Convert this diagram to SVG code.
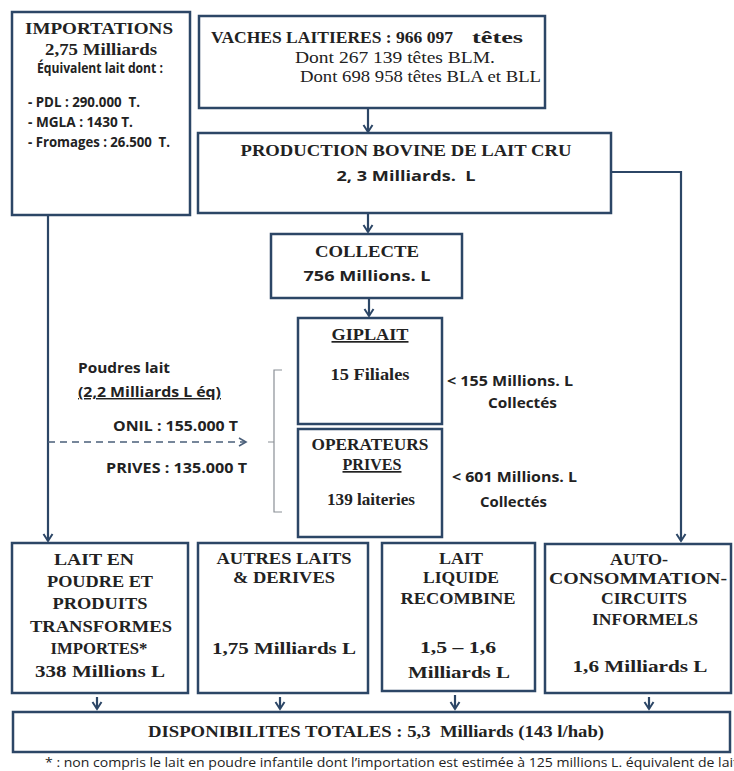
<svg xmlns="http://www.w3.org/2000/svg" width="734" height="771" viewBox="0 0 734 771">
  <defs>
    <style>
      .box { fill: #ffffff; stroke: #2c4666; stroke-width: 2.5; }
      .link { fill: none; stroke: #2c4666; stroke-width: 2.2; }
      .dash { fill: none; stroke: #4a5f7a; stroke-width: 1.6; stroke-dasharray: 7 5; }
      .brace { fill: none; stroke: #8a8f96; stroke-width: 1.2; }
      .hb { font-family: "Liberation Serif", "Times New Roman", serif; font-weight: bold; font-size: 17px; fill: #222222; }
      .hr { font-family: "Liberation Serif", "Times New Roman", serif; font-size: 16px; fill: #222222; }
      .sb { font-family: "Open Sans", "Noto Sans", sans-serif; font-weight: bold; font-size: 14.5px; fill: #222222; }
      .ss { font-family: "Open Sans", "Noto Sans", sans-serif; font-size: 12px; fill: #222222; }
      .mid { text-anchor: middle; }
      .u { text-decoration: underline; }
    </style>
    <marker id="chev" markerUnits="userSpaceOnUse" markerWidth="12" markerHeight="12" viewBox="0 0 12 12" refX="10" refY="6" orient="auto">
      <path d="M3,1.5 L10,6 L3,10.5" fill="none" stroke="#2c4666" stroke-width="2"/>
    </marker>
    <marker id="chevDash" markerUnits="userSpaceOnUse" markerWidth="12" markerHeight="12" viewBox="0 0 12 12" refX="10" refY="6" orient="auto">
      <path d="M3,2 L10,6 L3,10" fill="none" stroke="#4a5f7a" stroke-width="1.6"/>
    </marker>
  </defs>

  <rect width="734" height="771" fill="#ffffff"/>

  <!-- connectors -->
  <g id="connectors">
    <path class="link" d="M368,108 V132" marker-end="url(#chev)"/>
    <path class="link" d="M368,213 V232" marker-end="url(#chev)"/>
    <path class="link" d="M369,298 V316" marker-end="url(#chev)"/>
    <path class="link" d="M48,215 V541" marker-end="url(#chev)"/>
    <path class="link" d="M611,172 H681 V541" marker-end="url(#chev)"/>
    <path class="dash" d="M48,442 H246" marker-end="url(#chevDash)"/>
    <path class="brace" d="M282,370 H274 V512 H282 M274,442 H268"/>
    <path class="link" d="M97,697 V709" marker-end="url(#chev)"/>
    <path class="link" d="M280,697 V709" marker-end="url(#chev)"/>
    <path class="link" d="M455,695 V709" marker-end="url(#chev)"/>
    <path class="link" d="M649,697 V709" marker-end="url(#chev)"/>
  </g>

  <!-- imports -->
  <g id="importations">
    <rect class="box" x="12" y="12" width="178" height="203"/>
    <text class="hb mid" x="99" y="34" textLength="148" lengthAdjust="spacingAndGlyphs">IMPORTATIONS</text>
    <text class="hb mid" x="101" y="55" textLength="112" lengthAdjust="spacingAndGlyphs">2,75 Milliards</text>
    <text class="sb mid" x="100" y="73" font-size="12" textLength="126" lengthAdjust="spacingAndGlyphs">Équivalent lait dont :</text>
    <text class="sb" x="28" y="107" font-size="13" textLength="112" lengthAdjust="spacingAndGlyphs" xml:space="preserve">- PDL : 290.000  T.</text>
    <text class="sb" x="28" y="127" font-size="13" textLength="105" lengthAdjust="spacingAndGlyphs">- MGLA : 1430 T.</text>
    <text class="sb" x="28" y="147" font-size="13" textLength="142" lengthAdjust="spacingAndGlyphs" xml:space="preserve">- Fromages : 26.500  T.</text>
  </g>

  <!-- herd -->
  <g id="vaches">
    <rect class="box" x="199" y="16" width="346" height="92"/>
    <text class="hb" x="211" y="43" textLength="242" lengthAdjust="spacingAndGlyphs">VACHES LAITIERES : 966 097</text>
    <text class="hb" x="472" y="43" textLength="51" lengthAdjust="spacingAndGlyphs">têtes</text>
    <text class="hr" x="295" y="63" textLength="200" lengthAdjust="spacingAndGlyphs">Dont 267 139 têtes BLM.</text>
    <text class="hr" x="300" y="82" textLength="241" lengthAdjust="spacingAndGlyphs">Dont 698 958 têtes BLA et BLL</text>
  </g>

  <!-- raw milk production -->
  <g id="production">
    <rect class="box" x="198" y="133" width="413" height="80"/>
    <text class="hb mid" x="406" y="156" textLength="331" lengthAdjust="spacingAndGlyphs">PRODUCTION BOVINE DE LAIT CRU</text>
    <text class="sb mid" x="406" y="181" font-size="16" textLength="139" lengthAdjust="spacingAndGlyphs" xml:space="preserve">2, 3 Milliards.  L</text>
  </g>

  <!-- collection -->
  <g id="collecte">
    <rect class="box" x="271" y="234" width="191" height="64"/>
    <text class="hb mid" x="367" y="257" textLength="104" lengthAdjust="spacingAndGlyphs">COLLECTE</text>
    <text class="sb mid" x="367" y="281" font-size="16" textLength="127" lengthAdjust="spacingAndGlyphs">756 Millions. L</text>
  </g>

  <!-- public processor -->
  <g id="giplait">
    <rect class="box" x="298" y="318" width="144" height="106"/>
    <text class="hb mid u" x="370" y="340" textLength="77" lengthAdjust="spacingAndGlyphs">GIPLAIT</text>
    <text class="hb mid" x="370" y="380" textLength="79" lengthAdjust="spacingAndGlyphs">15 Filiales</text>
    <text class="sb" x="447" y="386" textLength="126" lengthAdjust="spacingAndGlyphs">&lt; 155 Millions. L</text>
    <text class="sb" x="488" y="408" textLength="69" lengthAdjust="spacingAndGlyphs">Collectés</text>
  </g>

  <!-- private processors -->
  <g id="operateurs">
    <rect class="box" x="298" y="429" width="144" height="108"/>
    <text class="hb mid" x="370" y="450" textLength="117" lengthAdjust="spacingAndGlyphs">OPERATEURS</text>
    <text class="hb mid u" x="372" y="470" textLength="59" lengthAdjust="spacingAndGlyphs">PRIVES</text>
    <text class="hb mid" x="371" y="505" textLength="88" lengthAdjust="spacingAndGlyphs">139 laiteries</text>
    <text class="sb" x="452" y="482" textLength="125" lengthAdjust="spacingAndGlyphs">&lt; 601 Millions. L</text>
    <text class="sb" x="480" y="507" textLength="67" lengthAdjust="spacingAndGlyphs">Collectés</text>
  </g>

  <!-- powder flow labels -->
  <g id="poudres">
    <text class="sb" x="78" y="373" textLength="92" lengthAdjust="spacingAndGlyphs">Poudres lait</text>
    <text class="sb u" x="78" y="397" textLength="143" lengthAdjust="spacingAndGlyphs">(2,2 Milliards L éq)</text>
    <text class="sb" x="113" y="431" textLength="125" lengthAdjust="spacingAndGlyphs">ONIL : 155.000 T</text>
    <text class="sb" x="106" y="473" textLength="141" lengthAdjust="spacingAndGlyphs">PRIVES : 135.000 T</text>
  </g>

  <!-- outputs -->
  <g id="lait-poudre">
    <rect class="box" x="12" y="543" width="176" height="150"/>
    <text class="hb mid" x="94" y="565" textLength="80" lengthAdjust="spacingAndGlyphs">LAIT EN</text>
    <text class="hb mid" x="100" y="587" textLength="106" lengthAdjust="spacingAndGlyphs">POUDRE ET</text>
    <text class="hb mid" x="100" y="609" textLength="95" lengthAdjust="spacingAndGlyphs">PRODUITS</text>
    <text class="hb mid" x="101" y="632" textLength="142" lengthAdjust="spacingAndGlyphs">TRANSFORMES</text>
    <text class="hb mid" x="99" y="654" textLength="97" lengthAdjust="spacingAndGlyphs">IMPORTES*</text>
    <text class="hb mid" x="100" y="677" textLength="130" lengthAdjust="spacingAndGlyphs">338 Millions L</text>
  </g>

  <g id="autres-laits">
    <rect class="box" x="198" y="543" width="170" height="150"/>
    <text class="hb mid" x="284" y="564" textLength="135" lengthAdjust="spacingAndGlyphs">AUTRES LAITS</text>
    <text class="hb mid" x="284" y="583" textLength="102" lengthAdjust="spacingAndGlyphs">&amp; DERIVES</text>
    <text class="hb mid" x="284" y="654" textLength="144" lengthAdjust="spacingAndGlyphs">1,75 Milliards L</text>
  </g>

  <g id="lait-recombine">
    <rect class="box" x="382" y="543" width="153" height="148"/>
    <text class="hb mid" x="461" y="564" textLength="44" lengthAdjust="spacingAndGlyphs">LAIT</text>
    <text class="hb mid" x="461" y="583" textLength="76" lengthAdjust="spacingAndGlyphs">LIQUIDE</text>
    <text class="hb mid" x="458" y="604" textLength="115" lengthAdjust="spacingAndGlyphs">RECOMBINE</text>
    <text class="hb mid" x="458" y="653" textLength="76" lengthAdjust="spacingAndGlyphs">1,5 – 1,6</text>
    <text class="hb mid" x="459" y="678" textLength="102" lengthAdjust="spacingAndGlyphs">Milliards L</text>
  </g>

  <g id="autoconsommation">
    <rect class="box" x="545" y="544" width="186" height="149"/>
    <text class="hb mid" x="639" y="565" textLength="58" lengthAdjust="spacingAndGlyphs">AUTO-</text>
    <text class="hb mid" x="638" y="584" textLength="178" lengthAdjust="spacingAndGlyphs">CONSOMMATION-</text>
    <text class="hb mid" x="644" y="604" textLength="86" lengthAdjust="spacingAndGlyphs">CIRCUITS</text>
    <text class="hb mid" x="645" y="625" textLength="106" lengthAdjust="spacingAndGlyphs">INFORMELS</text>
    <text class="hb mid" x="640" y="672" textLength="135" lengthAdjust="spacingAndGlyphs">1,6 Milliards L</text>
  </g>

  <!-- total availability -->
  <g id="disponibilites">
    <rect class="box" x="13" y="712" width="717" height="40"/>
    <text class="hb" x="148" y="737" textLength="456" lengthAdjust="spacingAndGlyphs" xml:space="preserve">DISPONIBILITES TOTALES : 5,3  Milliards (143 l/hab)</text>
  </g>

  <text class="ss" x="45" y="767" textLength="693" lengthAdjust="spacingAndGlyphs">* : non compris le lait en poudre infantile dont l’importation est estimée à 125 millions L. équivalent de lait</text>
</svg>
